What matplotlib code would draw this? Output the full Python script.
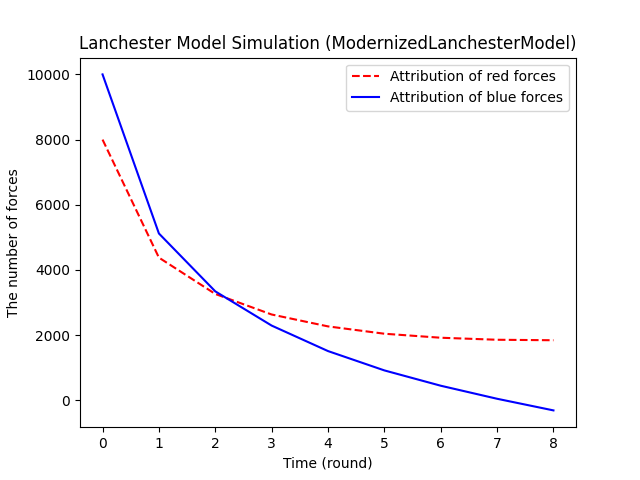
import matplotlib
matplotlib.use("Agg")
import matplotlib.pyplot as plt

rounds = [0, 1, 2, 3, 4, 5, 6, 7, 8]
red_forces = [8000, 4380, 3265, 2635, 2270, 2045, 1922, 1860, 1845]
blue_forces = [10000, 5120, 3345, 2295, 1513, 920, 450, 50, -307]

fig, ax = plt.subplots(figsize=(6.4, 4.8), dpi=100)
ax.plot(rounds, red_forces, 'r--', label='Attribution of red forces')
ax.plot(rounds, blue_forces, 'b-', label='Attribution of blue forces')
ax.set_xlabel('Time (round)')
ax.set_ylabel('The number of forces')
ax.set_title('Lanchester Model Simulation (ModernizedLanchesterModel)')
ax.legend()
fig.savefig('out.png', dpi=100)
